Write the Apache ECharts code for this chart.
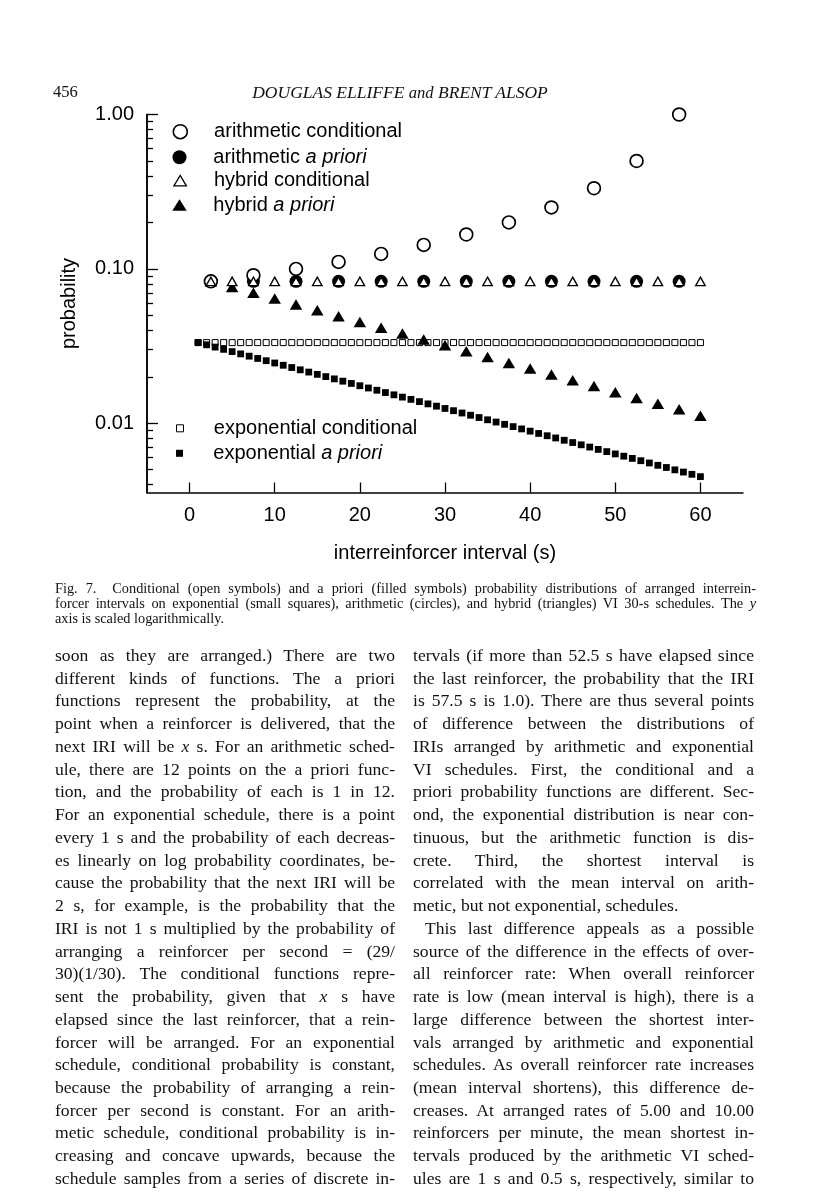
<!DOCTYPE html>
<html><head><meta charset="utf-8">
<script src="https://cdn.jsdelivr.net/npm/echarts@6/dist/echarts.min.js"></script>
<style>
html,body{margin:0;padding:0;background:#fff;}
#page{position:relative;width:816px;height:1202px;overflow:hidden;background:#fff;}
#chart{position:absolute;left:0;top:0;width:816px;height:1202px;}
.t{position:absolute;font-family:"Liberation Serif","Times New Roman",serif;color:#111;white-space:pre;line-height:1;}
</style></head><body>
<div id="page"><div id="chart"></div></div>
<script>
// ---------- data ----------
const xTicks = [0, 10, 20, 30, 40, 50, 60];
const yMajorTicks = [0.01, 0.1, 1];
const yTickLabels = ['0.01', '0.10', '1.00'];
const yMinorTicks = [0.004, 0.005, 0.006, 0.007, 0.008, 0.009,
  0.02, 0.03, 0.04, 0.05, 0.06, 0.07, 0.08, 0.09,
  0.2, 0.3, 0.4, 0.5, 0.6, 0.7, 0.8, 0.9];

const arithX = [2.5, 7.5, 12.5, 17.5, 22.5, 27.5, 32.5, 37.5, 42.5, 47.5, 52.5, 57.5];
const arithConditional = [0.083, 0.091, 0.100, 0.111, 0.125, 0.143, 0.167, 0.200, 0.250, 0.333, 0.500, 1.000];
const arithPriori = [0.083, 0.083, 0.083, 0.083, 0.083, 0.083, 0.083, 0.083, 0.083, 0.083, 0.083, 0.083];

const hybridX = [2.5, 5, 7.5, 10, 12.5, 15, 17.5, 20, 22.5, 25, 27.5, 30,
  32.5, 35, 37.5, 40, 42.5, 45, 47.5, 50, 52.5, 55, 57.5, 60];
const hybridConditional = [0.083, 0.083, 0.083, 0.083, 0.083, 0.083, 0.083, 0.083, 0.083, 0.083, 0.083, 0.083,
  0.083, 0.083, 0.083, 0.083, 0.083, 0.083, 0.083, 0.083, 0.083, 0.083, 0.083, 0.083];
const hybridPriori = [0.0833, 0.0764, 0.0700, 0.0642, 0.0588, 0.0539, 0.0494, 0.0453, 0.0415, 0.0381, 0.0349, 0.0320,
  0.0293, 0.0269, 0.0246, 0.0226, 0.0207, 0.0190, 0.0174, 0.0159, 0.0146, 0.0134, 0.0123, 0.0112];

const expX = [1, 2, 3, 4, 5, 6, 7, 8, 9, 10, 11, 12, 13, 14, 15, 16, 17, 18, 19, 20,
  21, 22, 23, 24, 25, 26, 27, 28, 29, 30, 31, 32, 33, 34, 35, 36, 37, 38, 39, 40,
  41, 42, 43, 44, 45, 46, 47, 48, 49, 50, 51, 52, 53, 54, 55, 56, 57, 58, 59, 60];
const expConditional = [0.0333, 0.0333, 0.0333, 0.0333, 0.0333, 0.0333, 0.0333, 0.0333, 0.0333, 0.0333,
  0.0333, 0.0333, 0.0333, 0.0333, 0.0333, 0.0333, 0.0333, 0.0333, 0.0333, 0.0333,
  0.0333, 0.0333, 0.0333, 0.0333, 0.0333, 0.0333, 0.0333, 0.0333, 0.0333, 0.0333,
  0.0333, 0.0333, 0.0333, 0.0333, 0.0333, 0.0333, 0.0333, 0.0333, 0.0333, 0.0333,
  0.0333, 0.0333, 0.0333, 0.0333, 0.0333, 0.0333, 0.0333, 0.0333, 0.0333, 0.0333,
  0.0333, 0.0333, 0.0333, 0.0333, 0.0333, 0.0333, 0.0333, 0.0333, 0.0333, 0.0333];
const expPriori = [0.03333, 0.03222, 0.03115, 0.03011, 0.02911, 0.02814, 0.02720, 0.02629, 0.02542, 0.02457,
  0.02375, 0.02296, 0.02219, 0.02145, 0.02074, 0.02005, 0.01938, 0.01873, 0.01811, 0.01750,
  0.01692, 0.01636, 0.01581, 0.01528, 0.01477, 0.01428, 0.01381, 0.01335, 0.01290, 0.01247,
  0.01206, 0.01165, 0.01127, 0.01089, 0.01053, 0.01018, 0.00984, 0.00951, 0.00919, 0.00889,
  0.00859, 0.00830, 0.00803, 0.00776, 0.00750, 0.00725, 0.00701, 0.00677, 0.00655, 0.00633,
  0.00612, 0.00592, 0.00572, 0.00553, 0.00534, 0.00517, 0.00499, 0.00483, 0.00467, 0.00451];

const xName = 'interreinforcer interval (s)';
const yName = 'probability';

// ---------- page text ----------
const headerNum = '456';
const headerAuthors = 'DOUGLAS ELLIFFE <span style="font-size:0.95em">and</span> BRENT ALSOP';
const captionLines = [
  'Fig. 7.  Conditional (open symbols) and a priori (filled symbols) probability distributions of arranged interrein-',
  'forcer intervals on exponential (small squares), arithmetic (circles), and hybrid (triangles) VI 30-s schedules. The <i>y</i>',
  'axis is scaled logarithmically.'
];
const leftLines = [
  'soon as they are arranged.) There are two',
  'different kinds of functions. The a priori',
  'functions represent the probability, at the',
  'point when a reinforcer is delivered, that the',
  'next IRI will be <i>x</i> s. For an arithmetic sched-',
  'ule, there are 12 points on the a priori func-',
  'tion, and the probability of each is 1 in 12.',
  'For an exponential schedule, there is a point',
  'every 1 s and the probability of each decreas-',
  'es linearly on log probability coordinates, be-',
  'cause the probability that the next IRI will be',
  '2 s, for example, is the probability that the',
  'IRI is not 1 s multiplied by the probability of',
  'arranging a reinforcer per second = (29/',
  '30)(1/30). The conditional functions repre-',
  'sent the probability, given that <i>x</i> s have',
  'elapsed since the last reinforcer, that a rein-',
  'forcer will be arranged. For an exponential',
  'schedule, conditional probability is constant,',
  'because the probability of arranging a rein-',
  'forcer per second is constant. For an arith-',
  'metic schedule, conditional probability is in-',
  'creasing and concave upwards, because the',
  'schedule samples from a series of discrete in-'
];
const rightLines = [
  'tervals (if more than 52.5 s have elapsed since',
  'the last reinforcer, the probability that the IRI',
  'is 57.5 s is 1.0). There are thus several points',
  'of difference between the distributions of',
  'IRIs arranged by arithmetic and exponential',
  'VI schedules. First, the conditional and a',
  'priori probability functions are different. Sec-',
  'ond, the exponential distribution is near con-',
  'tinuous, but the arithmetic function is dis-',
  'crete. Third, the shortest interval is',
  'correlated with the mean interval on arith-',
  'metic, but not exponential, schedules.',
  'This last difference appeals as a possible',
  'source of the difference in the effects of over-',
  'all reinforcer rate: When overall reinforcer',
  'rate is low (mean interval is high), there is a',
  'large difference between the shortest inter-',
  'vals arranged by arithmetic and exponential',
  'schedules. As overall reinforcer rate increases',
  '(mean interval shortens), this difference de-',
  'creases. At arranged rates of 5.00 and 10.00',
  'reinforcers per minute, the mean shortest in-',
  'tervals produced by the arithmetic VI sched-',
  'ules are 1 s and 0.5 s, respectively, similar to'
];

const page = document.getElementById('page');
function placeLine(html, left, width, cy, size, justify, opts) {
  opts = opts || {};
  const s = document.createElement('span');
  s.className = 't';
  s.style.fontSize = size + 'px';
  if (opts.italic) s.style.fontStyle = 'italic';
  s.innerHTML = html;
  page.appendChild(s);
  const w0 = s.getBoundingClientRect().width;
  if (justify) {
    const n = (s.textContent.match(/ /g) || []).length;
    if (n > 0) s.style.wordSpacing = ((width - w0) / n) + 'px';
  }
  let l = left;
  if (opts.center) l = left - s.getBoundingClientRect().width / 2;
  s.style.left = l + 'px';
  s.style.top = (cy - size * 0.6) + 'px';
}

placeLine(headerNum, 53, 0, 94, 16.5, false);
placeLine(headerAuthors, 400, 0, 94, 17.5, false, {italic: true, center: true});
captionLines.forEach((t, i) => placeLine(t, 55, 701, 590 + i * 14.6, 14.3, i < 2));
const bodyTop = 657.5, bodyStep = 22.74;
leftLines.forEach((t, i) => placeLine(t, 55, 340, bodyTop + i * bodyStep, 17.6, true));
rightLines.forEach((t, i) => {
  const indent = (i === 12) ? 12 : 0;
  placeLine(t, 413 + indent, 341 - indent, bodyTop + i * bodyStep, 17.6, i !== 11);
});

// ---------- chart ----------
const FONT = '"Liberation Sans", Arial, Helvetica, sans-serif';
const zip = (xs, ys) => xs.map((x, i) => [x, ys[i]]);
const chart = echarts.init(document.getElementById('chart'), null, {renderer: 'canvas'});

const richBase = {fontFamily: FONT, fontSize: 20, color: '#000', lineHeight: 22};
function legendFor(name, italicPart, cx, cy, w, h, spacer, borderWidth) {
  const plain = italicPart ? name.slice(0, name.length - italicPart.length) : name;
  return {
    data: [{name: name}],
    left: cx - w / 2,
    top: cy - 11,
    orient: 'vertical',
    padding: 0,
    itemWidth: w,
    itemHeight: h,
    selectedMode: false,
    itemStyle: {borderWidth: borderWidth},
    formatter: function () {
      return '{sp|\u00a0}{n|' + plain + '}' + (italicPart ? '{i|' + italicPart + '}' : '');
    },
    textStyle: {
      rich: {
        sp: {width: spacer, fontSize: 20, lineHeight: 22},
        n: Object.assign({}, richBase),
        i: Object.assign({}, richBase, {fontStyle: 'italic'})
      }
    }
  };
}
const LX = 179.5, TX = 213.3;
const legends = [
  legendFor('arithmetic conditional', null, LX, 132.7, 14, 14, TX - (LX + 7 + 5), 1.6),
  legendFor('arithmetic a priori', 'a priori', LX, 158.3, 14, 14, TX - (LX + 7 + 5), 0),
  legendFor('hybrid conditional', null, LX, 181.7, 12.5, 10.5, TX - (LX + 6.25 + 5), 1.3),
  legendFor('hybrid a priori', 'a priori', LX, 206, 14.5, 11.5, TX - (LX + 7.25 + 5), 0),
  legendFor('exponential conditional', null, LX, 429.3, 7, 7, TX - (LX + 3.5 + 5), 1),
  legendFor('exponential a priori', 'a priori', LX, 454.3, 7, 7, TX - (LX + 3.5 + 5), 0)
];

const axisLineStyle = {color: '#000', width: 1.5};
const tickStyle = {color: '#000', width: 1.3};
const labelStyle = {fontFamily: FONT, fontSize: 20, color: '#000'};

const option = {
  backgroundColor: '#fff',
  animation: false,
  grid: {left: 147, right: 73, top: 114.5, bottom: 709.5, containLabel: false},
  legend: legends,
  xAxis: {
    type: 'value', min: -5, max: 65,
    axisLine: {show: true, onZero: false, lineStyle: axisLineStyle},
    axisTick: {show: true, inside: true, length: 10, customValues: xTicks, lineStyle: tickStyle},
    axisLabel: Object.assign({show: true, customValues: xTicks, margin: 13}, labelStyle),
    splitLine: {show: false},
    name: xName, nameLocation: 'middle', nameGap: 51,
    nameTextStyle: labelStyle
  },
  yAxis: [{
    type: 'log', logBase: 10, min: 0.00356, max: 1,
    axisLine: {show: true, onZero: false, lineStyle: axisLineStyle},
    axisTick: {show: true, inside: true, length: 11, customValues: yMajorTicks, lineStyle: tickStyle},
    axisLabel: Object.assign({
      show: true, customValues: yMajorTicks, margin: 13,
      formatter: function (v) {
        for (let i = 0; i < yMajorTicks.length; i++) {
          if (Math.abs(Math.log10(v) - Math.log10(yMajorTicks[i])) < 1e-6) return yTickLabels[i];
        }
        return '';
      }
    }, labelStyle),
    splitLine: {show: false},
    minorTick: {show: false},
    name: yName, nameLocation: 'middle', nameGap: 68, nameRotate: 90,
    nameTextStyle: labelStyle
  }, {
    type: 'log', logBase: 10, min: 0.00356, max: 1, position: 'left', offset: 0,
    axisLine: {show: true, onZero: false, lineStyle: axisLineStyle},
    axisTick: {show: true, inside: true, length: 6, customValues: yMinorTicks, lineStyle: tickStyle},
    axisLabel: {show: false},
    splitLine: {show: false},
    minorTick: {show: false}
  }],
  series: [
    {name: 'exponential conditional', type: 'scatter', data: zip(expX, expConditional),
      symbol: 'rect', symbolSize: 6,
      itemStyle: {color: '#fff', borderColor: '#000', borderWidth: 1, opacity: 1}},
    {name: 'exponential a priori', type: 'scatter', data: zip(expX, expPriori),
      symbol: 'rect', symbolSize: 6.8, itemStyle: {color: '#000', opacity: 1}},
    {name: 'hybrid a priori', type: 'scatter', data: zip(hybridX, hybridPriori),
      symbol: 'triangle', symbolSize: [12.5, 10.5], itemStyle: {color: '#000', opacity: 1}},
    {name: 'arithmetic a priori', type: 'scatter', data: zip(arithX, arithPriori),
      symbol: 'circle', symbolSize: 13, itemStyle: {color: '#000', opacity: 1}},
    {name: 'arithmetic conditional', type: 'scatter', data: zip(arithX, arithConditional),
      symbol: 'circle', symbolSize: 12.8,
      itemStyle: {color: '#fff', borderColor: '#000', borderWidth: 1.7, opacity: 1}},
    {name: 'hybrid conditional', type: 'scatter', data: zip(hybridX, hybridConditional),
      symbol: 'triangle', symbolSize: [9.5, 8.5],
      itemStyle: {color: '#fff', borderColor: '#000', borderWidth: 1.3, opacity: 1}}
  ]
};
chart.setOption(option);
</script>
</body></html>
